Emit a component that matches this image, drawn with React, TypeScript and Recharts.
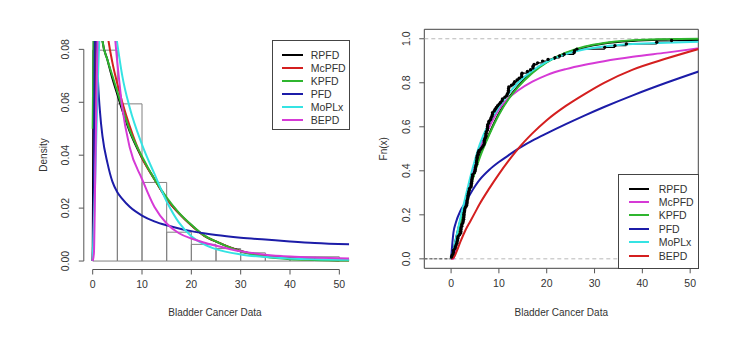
import { ComposedChart, Line, XAxis, YAxis, ReferenceArea, ReferenceLine } from 'recharts';

// remission times (months) of the bladder cancer patients, sorted
const bladderData = [
  0.08, 0.2, 0.4, 0.5, 0.51, 0.81, 0.9, 1.05, 1.19, 1.26,
  1.35, 1.4, 1.46, 1.76, 2.02, 2.02, 2.07, 2.09, 2.23, 2.26,
  2.46, 2.54, 2.62, 2.64, 2.69, 2.69, 2.75, 2.83, 2.87, 3.02,
  3.25, 3.31, 3.36, 3.36, 3.48, 3.52, 3.57, 3.64, 3.7, 3.82,
  3.88, 4.18, 4.23, 4.26, 4.33, 4.34, 4.4, 4.5, 4.51, 4.87,
  4.98, 5.06, 5.09, 5.17, 5.32, 5.32, 5.34, 5.41, 5.41, 5.49,
  5.62, 5.71, 5.85, 6.25, 6.54, 6.76, 6.93, 6.94, 6.97, 7.09,
  7.26, 7.28, 7.32, 7.39, 7.59, 7.62, 7.63, 7.66, 7.87, 7.93,
  8.26, 8.37, 8.53, 8.65, 8.66, 9.02, 9.22, 9.47, 9.74, 10.06,
  10.34, 10.66, 10.75, 11.25, 11.64, 11.79, 11.98, 12.02, 12.03, 12.07,
  12.63, 13.11, 13.29, 13.8, 14.24, 14.76, 14.77, 14.83, 15.96, 16.62,
  17.12, 17.14, 17.36, 18.1, 19.13, 20.28, 21.73, 22.69, 23.63, 25.74,
  25.82, 26.31, 32.15, 34.26, 36.66, 43.01, 46.12, 79.05,
];

// histogram (breaks of 5)
const binStart = [0, 5, 10, 15, 20, 25, 30, 35, 40, 45];
const binDensity = [0.0797, 0.0594, 0.0297, 0.0109, 0.0063, 0.0047, 0.0031, 0.0016, 0.0016, 0.0016];

// fitted densities
const pdfX = [0, 0.25, 0.5, 0.75, 1, 1.5, 2, 3, 4, 5, 6, 7.5, 10, 12.5, 15, 17.5, 20, 22.5, 25, 30, 35, 40, 45, 52];
const rpfdPdf = [0, 0.09, 0.11, 0.112, 0.108, 0.095, 0.083, 0.076, 0.069, 0.063, 0.057, 0.049, 0.039, 0.031, 0.0235, 0.018, 0.0135, 0.0097, 0.0073, 0.0038, 0.002, 0.0011, 0.0006, 0.0003];
const mcpfdPdf = [0, 0.02, 0.07, 0.095, 0.115, 0.122, 0.105, 0.086, 0.075, 0.067, 0.06, 0.051, 0.039, 0.031, 0.0235, 0.018, 0.0135, 0.0097, 0.0074, 0.0037, 0.0018, 0.001, 0.0005, 0.0003];
const kpfdPdf = [0.05, 0.1, 0.112, 0.11, 0.105, 0.094, 0.083, 0.076, 0.07, 0.064, 0.058, 0.0495, 0.0395, 0.031, 0.024, 0.0182, 0.0137, 0.0098, 0.0074, 0.0036, 0.0016, 0.0007, 0.0004, 0.0002];
const pfdPdf = [0, 0.03, 0.1, 0.09, 0.072, 0.056, 0.047, 0.037, 0.03, 0.026, 0.0235, 0.0205, 0.0172, 0.015, 0.0135, 0.0123, 0.0113, 0.0105, 0.0098, 0.0088, 0.0081, 0.0074, 0.0068, 0.0063];
const moplxPdf = [0, 0.015, 0.03, 0.048, 0.065, 0.09, 0.1, 0.105, 0.095, 0.082, 0.07, 0.058, 0.044, 0.033, 0.0225, 0.0145, 0.0094, 0.0064, 0.0045, 0.0025, 0.0015, 0.001, 0.0007, 0.0005];
const bepdPdf = [0, 0.003, 0.03, 0.06, 0.085, 0.11, 0.118, 0.11, 0.095, 0.075, 0.058, 0.043, 0.031, 0.0205, 0.0142, 0.0105, 0.0085, 0.007, 0.0058, 0.0037, 0.0024, 0.0017, 0.0013, 0.001];

// fitted cdfs
const cdfX = [0, 0.5, 1, 2, 3, 4, 5, 6, 8, 10, 12, 14, 17, 20, 24, 28, 32, 38, 45, 52];
const rpfdCdf = [0, 0.04, 0.09, 0.18, 0.26, 0.335, 0.405, 0.47, 0.57, 0.66, 0.73, 0.785, 0.85, 0.895, 0.935, 0.962, 0.978, 0.99, 0.996, 0.999];
const mcpfdCdf = [0, 0, 0.05, 0.15, 0.25, 0.34, 0.43, 0.5, 0.6, 0.68, 0.73, 0.765, 0.805, 0.835, 0.862, 0.882, 0.898, 0.918, 0.937, 0.957];
const kpfdCdf = [0, 0.03, 0.08, 0.17, 0.25, 0.325, 0.395, 0.46, 0.565, 0.655, 0.725, 0.78, 0.845, 0.893, 0.937, 0.965, 0.981, 0.993, 0.998, 1.0];
const pfdCdf = [0, 0.12, 0.165, 0.22, 0.255, 0.295, 0.33, 0.36, 0.405, 0.44, 0.47, 0.5, 0.537, 0.57, 0.612, 0.652, 0.69, 0.743, 0.8, 0.853];
const moplxCdf = [0, 0.04, 0.09, 0.19, 0.28, 0.37, 0.45, 0.52, 0.62, 0.69, 0.75, 0.8, 0.855, 0.895, 0.93, 0.952, 0.965, 0.976, 0.982, 0.986];
const bepdCdf = [0, 0.005, 0.025, 0.08, 0.13, 0.17, 0.21, 0.25, 0.32, 0.385, 0.445, 0.5, 0.57, 0.63, 0.695, 0.75, 0.8, 0.86, 0.91, 0.955];

const xTicks = [0, 10, 20, 30, 40, 50];
const densityTicks = [0, 0.02, 0.04, 0.06, 0.08];
const fnTicks = [0, 0.2, 0.4, 0.6, 0.8, 1.0];

const FONT = '"Liberation Sans", Arial, sans-serif';
const TXT = '#333';
const AX = '#555';
const FS = 10;

const BLACK = '#000000';
const RED = '#d41f1f';
const GREEN = '#2fb52f';
const BLUE = '#1c1ca8';
const CYAN = '#35e3e3';
const MAGENTA = '#d63ad6';

const toPts = (xs: number[], ys: number[]) => xs.map((x, i) => ({ x, y: ys[i] }));

const n = bladderData.length;
const ecdfSteps = bladderData.flatMap((v, i) => {
  const f = (i + 1) / n;
  const next = i + 1 < n ? bladderData[i + 1] : 90;
  return [{ x: v, y: f }, { x: next, y: f }, { x: next, y: null as number | null }];
});
const ecdfDots = bladderData.map((v, i) => ({ x: v, y: (i + 1) / n }));

const leftSeries = [
  { name: 'RPFD', color: BLACK, ys: rpfdPdf },
  { name: 'McPFD', color: RED, ys: mcpfdPdf },
  { name: 'KPFD', color: GREEN, ys: kpfdPdf },
  { name: 'PFD', color: BLUE, ys: pfdPdf },
  { name: 'MoPLx', color: CYAN, ys: moplxPdf },
  { name: 'BEPD', color: MAGENTA, ys: bepdPdf },
];
const rightSeries = [
  { name: 'RPFD', color: BLACK, ys: rpfdCdf },
  { name: 'McPFD', color: MAGENTA, ys: mcpfdCdf },
  { name: 'KPFD', color: GREEN, ys: kpfdCdf },
  { name: 'PFD', color: BLUE, ys: pfdCdf },
  { name: 'MoPLx', color: CYAN, ys: moplxCdf },
  { name: 'BEPD', color: RED, ys: bepdCdf },
];

const rotTick = (digits: number) => (props: any) => {
  const { x, y, payload } = props;
  return (
    <text x={x} y={y} transform={`rotate(-90 ${x} ${y})`} textAnchor="middle" fontSize={FS + 0.5} fill={TXT}>
      {Number(payload.value).toFixed(digits)}
    </text>
  );
};

const title = (text: string, x: number, y: number, rotate = false) => () => (
  <text
    x={x}
    y={y}
    transform={rotate ? `rotate(-90 ${x} ${y})` : undefined}
    textAnchor="middle"
    fontSize={FS}
    fill={TXT}
  >
    {text}
  </text>
);

function LegendBox({ items, left, top, width, height, rowTop, rowGap, lineLeft, lineWidth, textLeft }: any) {
  return (
    <div
      style={{
        position: 'absolute', left, top, width, height,
        border: '1px solid #444', boxSizing: 'border-box', background: '#fff',
      }}
    >
      {items.map((s: any, i: number) => (
        <div key={s.name}>
          <div
            style={{
              position: 'absolute', left: lineLeft, top: rowTop + rowGap * i - 1,
              width: lineWidth, height: 2, background: s.color,
            }}
          />
          <div
            style={{
              position: 'absolute', left: textLeft, top: rowTop + rowGap * i - 7,
              fontSize: FS + 0.5, lineHeight: '14px', color: TXT,
            }}
          >
            {s.name}
          </div>
        </div>
      ))}
    </div>
  );
}

export default function App() {
  const xMinL = -1.8;
  const yMinL = -0.0032;
  return (
    <div style={{ position: 'absolute', left: 0, top: 0, width: 731, height: 337, background: '#fff', fontFamily: FONT }}>
      {/* left: histogram + densities */}
      <div style={{ position: 'absolute', left: 0, top: 0 }}>
        <ComposedChart width={370} height={337} margin={{ top: 40.9, right: 20.8, left: 23.8, bottom: 37.5 }}>
          <XAxis
            type="number" dataKey="x" domain={[xMinL, 52]} allowDataOverflow ticks={xTicks}
            axisLine={false} tickLine={{ stroke: AX }} tickSize={5} tickMargin={6} height={30}
            tick={{ fontSize: FS + 0.5, fill: TXT }}
            label={title('Bladder Cancer Data', 215, 316)}
          />
          <YAxis
            type="number" dataKey="y" domain={[yMinL, 0.0832]} allowDataOverflow ticks={densityTicks}
            axisLine={false} tickLine={{ stroke: AX }} tickSize={5} tickMargin={10} width={60}
            tick={rotTick(2)}
            label={title('Density', 47, 155, true)}
          />
          {binStart.map((b, i) => (
            <ReferenceArea key={b} x1={b} x2={b + 5} y1={0} y2={binDensity[i]} fill="none" fillOpacity={0} stroke="#808080" strokeWidth={1} />
          ))}
          <ReferenceLine segment={[{ x: 0, y: yMinL }, { x: 50, y: yMinL }]} stroke={AX} />
          <ReferenceLine segment={[{ x: xMinL, y: 0 }, { x: xMinL, y: 0.08 }]} stroke={AX} />
          {leftSeries.map((s) => (
            <Line
              key={s.name} data={toPts(pdfX, s.ys)} dataKey="y" type="monotone" stroke={s.color}
              strokeWidth={2} dot={false} activeDot={false} isAnimationActive={false}
            />
          ))}
        </ComposedChart>
      </div>
      <LegendBox
        items={leftSeries} left={271.7} top={39.7} width={78.5} height={90.3}
        rowTop={14} rowGap={13} lineLeft={9.5} lineWidth={20.5} textLeft={38}
      />

      {/* right: ecdf + fitted cdfs */}
      <div style={{ position: 'absolute', left: 370, top: 0 }}>
        <ComposedChart width={361} height={337} margin={{ top: 29.3, right: 32.7, left: 14.3, bottom: 38.7 }}>
          <XAxis
            type="number" dataKey="x" domain={[-5.6, 51.7]} allowDataOverflow ticks={xTicks}
            axisLine={false} tickLine={{ stroke: AX }} tickSize={5} tickMargin={6} height={30}
            tick={{ fontSize: FS + 0.5, fill: TXT }}
            label={title('Bladder Cancer Data', 191.3, 316)}
          />
          <YAxis
            type="number" dataKey="y" domain={[-0.043, 1.043]} allowDataOverflow ticks={fnTicks}
            axisLine={false} tickLine={{ stroke: AX }} tickSize={5} tickMargin={9} width={40}
            tick={rotTick(1)}
            label={title('Fn(x)', 17, 148.8, true)}
          />
          <ReferenceLine y={0} stroke="#b8b8b8" strokeDasharray="4 3" />
          <ReferenceLine y={1} stroke="#b8b8b8" strokeDasharray="4 3" />
          <Line
            data={[{ x: -5.6, y: 0 }, { x: bladderData[0], y: 0 }]} dataKey="y" type="linear"
            stroke="#444" strokeDasharray="3 2" strokeWidth={1} dot={false} activeDot={false} isAnimationActive={false}
          />
          <Line
            data={ecdfSteps} dataKey="y" type="linear" stroke={BLACK} strokeWidth={1.4}
            dot={false} activeDot={false} connectNulls={false} isAnimationActive={false}
          />
          <Line
            data={ecdfDots} dataKey="y" stroke="none" dot={{ r: 1.7, fill: BLACK, stroke: 'none' }}
            activeDot={false} isAnimationActive={false}
          />
          {rightSeries.map((s) => (
            <Line
              key={s.name} data={toPts(cdfX, s.ys)} dataKey="y" type="monotone" stroke={s.color}
              strokeWidth={2} dot={false} activeDot={false} isAnimationActive={false}
            />
          ))}
          <ReferenceArea x1={-5.6} x2={51.7} y1={-0.043} y2={1.043} fill="none" fillOpacity={0} stroke="#444" strokeWidth={1} />
        </ComposedChart>
      </div>
      <LegendBox
        items={rightSeries} left={617.7} top={173.7} width={81} height={95}
        rowTop={14} rowGap={13.4} lineLeft={10.5} lineWidth={20} textLeft={40}
      />
    </div>
  );
}
